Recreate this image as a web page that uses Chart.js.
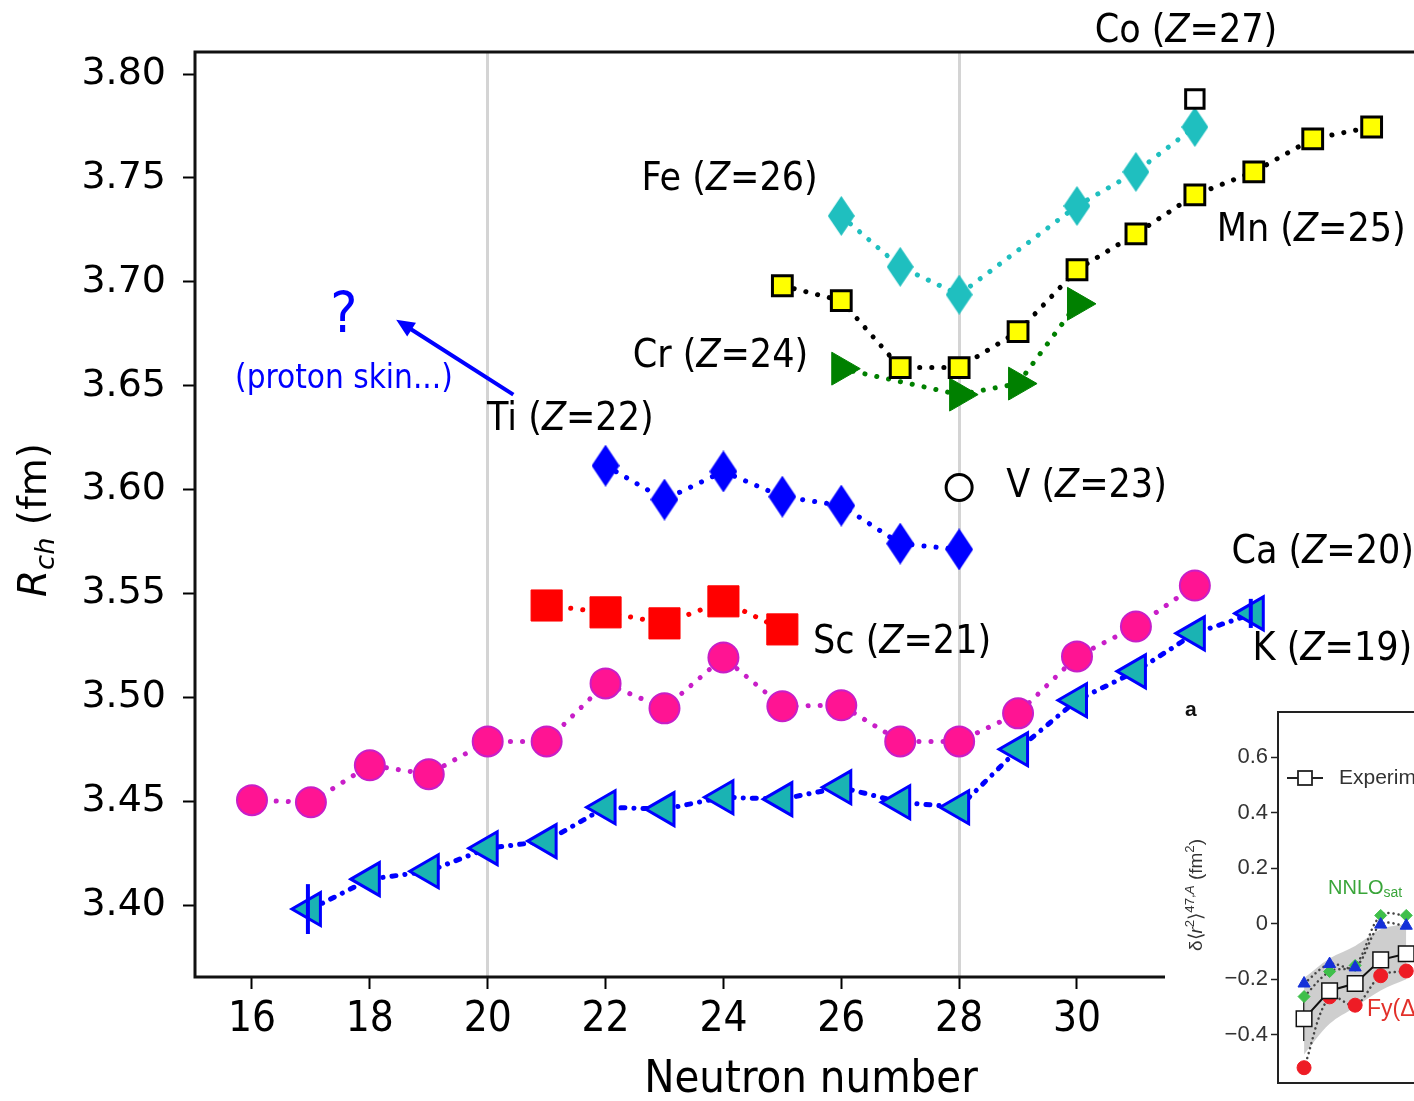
<!DOCTYPE html>
<html>
<head>
<meta charset="utf-8">
<script src="https://cdn.jsdelivr.net/npm/chart.js@4.4.1/dist/chart.umd.min.js"></script>
<style>
  html, body { margin: 0; padding: 0; background: #fff; overflow: hidden; width: 1414px; height: 1101px; }
  #wrap { position: relative; width: 1414px; height: 1101px; overflow: hidden; }
  #mainBox { position: absolute; left: 0; top: 0; width: 1440px; height: 1101px; }
  #insetBox { position: absolute; left: 1165px; top: 695px; width: 300px; height: 406px; background: #fff; }
  canvas { display: block; }
</style>
</head>
<body>
<div id="wrap">
  <div id="mainBox"><canvas id="main" width="1440" height="1101"></canvas></div>
  <div id="insetBox"><canvas id="inset" width="300" height="406"></canvas></div>
</div>
<script>
// ---- Charge radii R_ch (fm) versus neutron number ----
const caN = [16, 17, 18, 19, 20, 21, 22, 23, 24, 25, 26, 27, 28, 29, 30, 31, 32];
const caR = [3.4505, 3.4495, 3.4673, 3.4630, 3.4788, 3.4788, 3.5067, 3.4947, 3.5192, 3.4957, 3.4962, 3.4788, 3.4788, 3.4923, 3.5197, 3.5341, 3.5538];

const kN = [17, 18, 19, 20, 21, 22, 23, 24, 25, 26, 27, 28, 29, 30, 31, 32, 33];
const kR = [3.3981, 3.4125, 3.4163, 3.4274, 3.4308, 3.4471, 3.4462, 3.4519, 3.4510, 3.4567, 3.4495, 3.4471, 3.4750, 3.4986, 3.5125, 3.5308, 3.5404];
const kErr = [0.012, 0, 0, 0, 0, 0, 0, 0, 0, 0, 0, 0, 0, 0, 0, 0, 0.007];

const scN = [21, 22, 23, 24, 25];
const scR = [3.5442, 3.5409, 3.5356, 3.5462, 3.5327];

const tiN = [22, 23, 24, 25, 26, 27, 28];
const tiR = [3.6115, 3.5952, 3.6087, 3.5966, 3.5923, 3.5740, 3.5712];

const vN = [28];
const vR = [3.601];

const crN = [26, 28, 29, 30];
const crR = [3.6582, 3.6457, 3.6510, 3.6894];

const mnN = [25, 26, 27, 28, 29, 30, 31, 32, 33, 34, 35];
const mnR = [3.6981, 3.6909, 3.6587, 3.6587, 3.6760, 3.7058, 3.7231, 3.7418, 3.7529, 3.7688, 3.7745];

const feN = [26, 27, 28, 30, 31, 32];
const feR = [3.7317, 3.7072, 3.6938, 3.7365, 3.7529, 3.7745];

const coN = [32];
const coR = [3.788];

const xTicks = [16, 18, 20, 22, 24, 26, 28, 30, 32, 34];
const yTicks = [3.40, 3.45, 3.50, 3.55, 3.60, 3.65, 3.70, 3.75, 3.80];
const magicN = [20, 28];

// ---- Inset: δ<r²>^{47,A} (fm²) ----
const insetN = [17, 18, 19, 20, 21];
const insetExp = [-0.342, -0.241, -0.215, -0.130, -0.108];
const insetExpErr = [0.08, 0, 0, 0, 0];
const insetBlue = [-0.215, -0.145, -0.157, -0.003, -0.007];
const insetGreen = [-0.262, -0.172, -0.150, 0.030, 0.030];
const insetRed = [-0.518, -0.263, -0.293, -0.187, -0.170];
const insetBandHi = [-0.195, -0.125, -0.080, -0.020, 0.000];
const insetBandLo = [-0.470, -0.360, -0.300, -0.240, -0.200];
const insetTicks = [-0.4, -0.2, 0, 0.2, 0.4, 0.6];

const NARROW = "'DejaVu Sans Condensed', 'DejaVu Sans', sans-serif";
const WIDE = "'DejaVu Sans', sans-serif";
const ARIAL = "'Liberation Sans', Arial, sans-serif";

// ---------- helpers ----------
function pts(ns, vs) { return ns.map((n, i) => ({ x: n, y: vs[i] })); }

function partFont(p, size, family) {
  const s = (p.sub || p.sup) ? size * 0.7 : size;
  return `${p.i ? 'italic ' : ''}${p.b ? 'bold ' : ''}${s}px ${family}`;
}
function drawRich(ctx, parts, x, y, size, family, color, align) {
  ctx.save();
  ctx.fillStyle = color;
  ctx.textBaseline = 'middle';
  ctx.textAlign = 'left';
  let w = 0;
  parts.forEach(p => { ctx.font = partFont(p, size, family); w += ctx.measureText(p.t).width; });
  let cx = align === 'center' ? x - w / 2 : align === 'right' ? x - w : x;
  parts.forEach(p => {
    ctx.font = partFont(p, size, family);
    const dy = p.sub ? size * 0.28 : p.sup ? -size * 0.33 : 0;
    ctx.fillText(p.t, cx, y + dy);
    cx += ctx.measureText(p.t).width;
  });
  ctx.restore();
}
function zLabel(sym, z) { return [{ t: sym + ' (' }, { t: 'Z', i: true }, { t: '=' + z + ')' }]; }

function diamondImg(w, h, fill) {
  const c = document.createElement('canvas');
  c.width = w; c.height = h;
  const g = c.getContext('2d');
  g.beginPath();
  g.moveTo(w / 2, 0); g.lineTo(w, h / 2); g.lineTo(w / 2, h); g.lineTo(0, h / 2);
  g.closePath();
  g.fillStyle = fill;
  g.fill();
  return c;
}

function line(ns, vs, o) {
  return Object.assign({
    data: pts(ns, vs), showLine: true, fill: false, tension: 0,
    borderCapStyle: 'round', borderWidth: 5, borderDash: [0.1, 12]
  }, o);
}

// ---------- annotations for the main chart ----------
const elementLabels = [
  { parts: zLabel('Co', '27'), n: 30.30, r: 3.8202 },
  { parts: zLabel('Fe', '26'), n: 22.61, r: 3.7490 },
  { parts: zLabel('Mn', '25'), n: 32.37, r: 3.7244 },
  { parts: zLabel('Cr', '24'), n: 22.46, r: 3.6638 },
  { parts: zLabel('Ti', '22'), n: 19.99, r: 3.6335 },
  { parts: zLabel('V', '23'), n: 28.80, r: 3.6013 },
  { parts: zLabel('Ca', '20'), n: 32.62, r: 3.5695 },
  { parts: zLabel('Sc', '21'), n: 25.52, r: 3.5262 },
  { parts: zLabel('K', '19'), n: 32.98, r: 3.5228 }
];

const mainDecor = {
  id: 'mainDecor',
  afterDatasetsDraw(chart) {
    const { ctx, chartArea: a, scales: { x, y } } = chart;
    // error bars on K
    ctx.save();
    ctx.strokeStyle = '#0000ff';
    ctx.lineWidth = 4;
    kN.forEach((n, i) => {
      if (!kErr[i]) return;
      const px = x.getPixelForValue(n) - 3;
      ctx.beginPath();
      ctx.moveTo(px, y.getPixelForValue(kR[i] - kErr[i]));
      ctx.lineTo(px, y.getPixelForValue(kR[i] + kErr[i]));
      ctx.stroke();
    });
    // frame
    ctx.strokeStyle = '#111';
    ctx.lineWidth = 3;
    ctx.strokeRect(a.left, a.top, a.right - a.left + 10, a.bottom - a.top);
    ctx.restore();
  },
  afterDraw(chart) {
    const { ctx, scales: { x, y } } = chart;
    elementLabels.forEach(l => {
      drawRich(ctx, l.parts, x.getPixelForValue(l.n), y.getPixelForValue(l.r), 39, NARROW, '#000', 'left');
    });
    // proton-skin note
    const qx = x.getPixelForValue(17.56);
    drawRich(ctx, [{ t: '?' }], qx, y.getPixelForValue(3.6827), 57, NARROW, '#0000ff', 'center');
    drawRich(ctx, [{ t: '(proton skin...)' }], qx, y.getPixelForValue(3.6529), 33, NARROW, '#0000ff', 'center');
    // arrow
    const x0 = x.getPixelForValue(20.435), y0 = y.getPixelForValue(3.6457);
    const x1 = x.getPixelForValue(18.447), y1 = y.getPixelForValue(3.6817);
    const ang = Math.atan2(y1 - y0, x1 - x0);
    ctx.save();
    ctx.strokeStyle = '#0000ff'; ctx.fillStyle = '#0000ff'; ctx.lineWidth = 4;
    ctx.beginPath();
    ctx.moveTo(x0, y0);
    ctx.lineTo(x1 - Math.cos(ang) * 12, y1 - Math.sin(ang) * 12);
    ctx.stroke();
    ctx.beginPath();
    ctx.moveTo(x1, y1);
    ctx.lineTo(x1 - Math.cos(ang - 0.42) * 20, y1 - Math.sin(ang - 0.42) * 20);
    ctx.lineTo(x1 - Math.cos(ang + 0.42) * 20, y1 - Math.sin(ang + 0.42) * 20);
    ctx.closePath();
    ctx.fill();
    ctx.restore();
    // axis titles
    drawRich(ctx, [{ t: 'Neutron number' }], 811, 1080, 45, NARROW, '#000', 'center');
    ctx.save();
    ctx.translate(36, 520);
    ctx.rotate(-Math.PI / 2);
    drawRich(ctx, [{ t: 'R', i: true }, { t: 'ch', i: true, sub: true }, { t: ' (fm)' }], 0, 0, 39, WIDE, '#000', 'center');
    ctx.restore();
  }
};

new Chart(document.getElementById('main'), {
  type: 'scatter',
  data: {
    datasets: [
      line(coN, coR, { showLine: false, pointStyle: 'rect', pointRadius: 13, pointBackgroundColor: '#fff', pointBorderColor: '#000', pointBorderWidth: 3 }),
      line(feN, feR, { borderColor: '#1fbfbf', pointStyle: diamondImg(27, 40, '#1fbfbf') }),
      line(mnN, mnR, { borderColor: '#000', pointStyle: 'rect', pointRadius: 14, pointBackgroundColor: '#ffff00', pointBorderColor: '#000', pointBorderWidth: 3 }),
      line(crN, crR, { borderColor: '#008000', pointStyle: 'triangle', pointRotation: 90, pointRadius: 19, pointBackgroundColor: '#008000', pointBorderColor: '#008000', pointBorderWidth: 1 }),
      line(vN, vR, { showLine: false, pointStyle: 'circle', pointRadius: 13, pointBackgroundColor: '#fff', pointBorderColor: '#000', pointBorderWidth: 3 }),
      line(tiN, tiR, { borderColor: '#0000ff', pointStyle: diamondImg(28, 42, '#0000ff') }),
      line(scN, scR, { borderColor: '#ff0000', pointStyle: 'rect', pointRadius: 22, pointBackgroundColor: '#ff0000', pointBorderColor: '#ff0000', pointBorderWidth: 1 }),
      line(caN, caR, { borderColor: '#c81ec8', pointStyle: 'circle', pointRadius: 15, pointBackgroundColor: '#ff1493', pointBorderColor: '#c81ec8', pointBorderWidth: 2 }),
      line(kN, kR, { borderColor: '#0000ff', borderDash: [4, 9, 0.1, 9], pointStyle: 'triangle', pointRotation: -90, pointRadius: 19, pointBackgroundColor: '#1ab3b3', pointBorderColor: '#0000ff', pointBorderWidth: 3 })
    ]
  },
  options: {
    responsive: false,
    animation: false,
    events: [],
    layout: { autoPadding: false, padding: { top: 52, left: 0, right: 0, bottom: 0 } },
    plugins: { legend: { display: false }, tooltip: { enabled: false } },
    scales: {
      x: {
        type: 'linear', min: 15.033, max: 36.16,
        afterFit: s => { s.height = 124; s.paddingLeft = 0; s.paddingRight = 0; },
        afterBuildTicks: s => { s.ticks = xTicks.map(v => ({ value: v })); },
        border: { display: false },
        grid: {
          color: c => (c.tick && magicN.includes(c.tick.value)) ? '#d4d4d4' : 'rgba(0,0,0,0)',
          lineWidth: 3, drawTicks: true, tickLength: 12, tickWidth: 2, tickColor: '#000'
        },
        ticks: { color: '#000', font: { family: NARROW, size: 42 }, padding: 6, maxRotation: 0, autoSkip: false }
      },
      y: {
        type: 'linear', min: 3.3654, max: 3.8106,
        afterFit: s => { s.width = 195; s.paddingTop = 0; s.paddingBottom = 0; },
        afterBuildTicks: s => { s.ticks = yTicks.map(v => ({ value: v })); },
        border: { display: false },
        grid: { drawOnChartArea: false, drawTicks: true, tickLength: 12, tickWidth: 2, tickColor: '#000' },
        ticks: { color: '#000', font: { family: WIDE, size: 38 }, padding: 17, callback: v => v.toFixed(2) }
      }
    }
  },
  plugins: [mainDecor]
});

// ---------- inset panel ----------
const insetDecor = {
  id: 'insetDecor',
  beforeDatasetsDraw(chart) {
    const { ctx, scales: { x, y } } = chart;
    ctx.save();
    ctx.strokeStyle = '#222'; ctx.lineWidth = 2;
    insetN.forEach((n, i) => {
      if (!insetExpErr[i]) return;
      const px = x.getPixelForValue(n);
      ctx.beginPath();
      ctx.moveTo(px, y.getPixelForValue(insetExp[i] - insetExpErr[i]));
      ctx.lineTo(px, y.getPixelForValue(insetExp[i] + insetExpErr[i]));
      ctx.stroke();
    });
    ctx.restore();
  },
  afterDraw(chart) {
    const { ctx, chartArea: a } = chart;
    ctx.save();
    ctx.strokeStyle = '#222'; ctx.lineWidth = 2;
    ctx.strokeRect(a.left, a.top, a.right - a.left + 10, a.bottom - a.top);
    // legend entry
    ctx.lineWidth = 1.8;
    ctx.beginPath(); ctx.moveTo(122, 83); ctx.lineTo(158, 83); ctx.stroke();
    ctx.fillStyle = '#fff';
    ctx.fillRect(133, 76, 14, 14);
    ctx.strokeRect(133, 76, 14, 14);
    ctx.restore();
    drawRich(ctx, [{ t: 'Experiment' }], 174, 83, 21, ARIAL, '#333', 'left');
    drawRich(ctx, [{ t: 'a', b: true }], 20, 15, 21, ARIAL, '#111', 'left');
    drawRich(ctx, [{ t: 'NNLO' }, { t: 'sat', sub: true }], 163, 193, 20, ARIAL, '#3aa53a', 'left');
    drawRich(ctx, [{ t: 'Fy(Δ,π)' }], 202, 315, 23, ARIAL, '#e2302a', 'left');
    ctx.save();
    ctx.translate(32, 200);
    ctx.rotate(-Math.PI / 2);
    drawRich(ctx, [{ t: 'δ⟨' }, { t: 'r', i: true }, { t: '2', sup: true }, { t: '⟩' }, { t: '47,', sup: true }, { t: 'A', sup: true, i: true }, { t: ' (fm' }, { t: '2', sup: true }, { t: ')' }], 0, 0, 19, ARIAL, '#333', 'center');
    ctx.restore();
  }
};

function iline(vs, o) {
  return Object.assign({ data: pts(insetN, vs), showLine: true, fill: false, tension: 0.35 }, o);
}

new Chart(document.getElementById('inset'), {
  type: 'scatter',
  data: {
    datasets: [
      iline(insetExp, { borderColor: '#111', borderWidth: 2, tension: 0, pointStyle: 'rect', pointRadius: 11, pointBackgroundColor: '#fff', pointBorderColor: '#111', pointBorderWidth: 1.5 }),
      iline(insetBlue, { borderColor: '#444', borderWidth: 2.5, borderDash: [0.1, 5], borderCapStyle: 'round', pointStyle: 'triangle', pointRadius: 7, pointBackgroundColor: '#1530d8', pointBorderColor: '#1530d8', pointBorderWidth: 1 }),
      iline(insetGreen, { borderColor: '#444', borderWidth: 2.5, borderDash: [0.1, 5], borderCapStyle: 'round', pointStyle: 'rectRot', pointRadius: 6, pointBackgroundColor: '#3fbf4a', pointBorderColor: '#3fbf4a', pointBorderWidth: 1 }),
      iline(insetRed, { borderColor: '#444', borderWidth: 2.5, borderDash: [0.1, 5], borderCapStyle: 'round', pointStyle: 'circle', pointRadius: 7, pointBackgroundColor: '#ee1c25', pointBorderColor: '#ee1c25', pointBorderWidth: 1 }),
      iline(insetBandHi, { borderWidth: 0, pointRadius: 0, fill: '+1', backgroundColor: 'rgba(190,190,190,0.75)' }),
      iline(insetBandLo, { borderWidth: 0, pointRadius: 0 })
    ]
  },
  options: {
    responsive: false,
    animation: false,
    events: [],
    layout: { autoPadding: false, padding: { top: 17, left: 0, right: 0, bottom: 18 } },
    plugins: { legend: { display: false }, tooltip: { enabled: false } },
    scales: {
      x: { type: 'linear', display: false, min: 15.98, max: 23.3 },
      y: {
        type: 'linear', min: -0.573, max: 0.762,
        afterFit: s => { s.width = 113; s.paddingTop = 0; s.paddingBottom = 0; },
        afterBuildTicks: s => { s.ticks = insetTicks.map(v => ({ value: v })); },
        border: { display: false },
        grid: { drawOnChartArea: false, drawTicks: true, tickLength: 7, tickWidth: 1.5, tickColor: '#222' },
        ticks: { color: '#333', font: { family: ARIAL, size: 22 }, padding: 3, callback: v => (Math.abs(v) < 1e-9 ? '0' : v.toFixed(1).replace('-', '\u2212')) }
      }
    }
  },
  plugins: [insetDecor]
});
</script>
</body>
</html>
